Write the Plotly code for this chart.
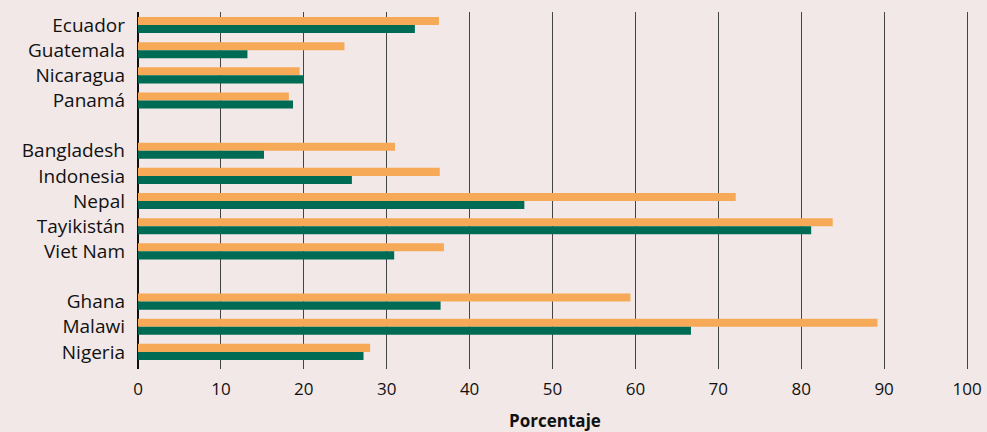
import plotly.graph_objects as go

countries = ["Ecuador", "Guatemala", "Nicaragua", "Panamá",
             "Bangladesh", "Indonesia", "Nepal", "Tayikistán", "Viet Nam",
             "Ghana", "Malawi", "Nigeria"]
group_sizes = [4, 5, 3]
orange_vals = [36.3, 24.9, 19.5, 18.2, 31.0, 36.4, 72.1, 83.8, 36.9, 59.4, 89.2, 28.0]
green_vals = [33.4, 13.2, 19.9, 18.7, 15.2, 25.8, 46.6, 81.2, 30.9, 36.5, 66.7, 27.2]
x_ticks = [0, 10, 20, 30, 40, 50, 60, 70, 80, 90, 100]

# positions: categories stacked with one empty slot between groups
positions = []
slot = 0
for g in group_sizes:
    for _ in range(g):
        positions.append(slot)
        slot += 1
    slot += 1

ORANGE = "#F6AA57"
GREEN = "#006B54"
BG = "#F1E8E7"

fig = go.Figure()
fig.add_trace(go.Bar(y=positions, x=orange_vals, orientation="h",
                     marker=dict(color=ORANGE, line=dict(width=0)), showlegend=False))
fig.add_trace(go.Bar(y=positions, x=green_vals, orientation="h",
                     marker=dict(color=GREEN, line=dict(width=0)), showlegend=False))

fig.update_layout(
    width=987, height=432,
    barmode="group", bargap=0.36, bargroupgap=0,
    paper_bgcolor=BG, plot_bgcolor=BG,
    margin=dict(l=138, r=15, t=12, b=63),
    font=dict(family="Open Sans", color="#111111"),
    xaxis=dict(range=[0, 100.6], tickvals=x_ticks, showgrid=True, automargin=False,
               gridcolor="#444444", gridwidth=1, zeroline=True, zerolinecolor="#111111",
               zerolinewidth=1.5, showline=False, ticks="", ticklabelstandoff=8,
               tickfont=dict(size=17),
               title=dict(text="<b>Porcentaje</b>", font=dict(size=17), standoff=20)),
    yaxis=dict(range=[positions[-1] + 0.68, -0.52], tickvals=positions, ticktext=countries,
               showgrid=False, zeroline=False, showline=False, ticks="", automargin=False,
               ticklabelstandoff=12, tickfont=dict(size=19)),
)

fig.write_html("out.html", config={"displayModeBar": False},
               post_script="document.body.style.margin='0';document.body.style.overflow='hidden';")
